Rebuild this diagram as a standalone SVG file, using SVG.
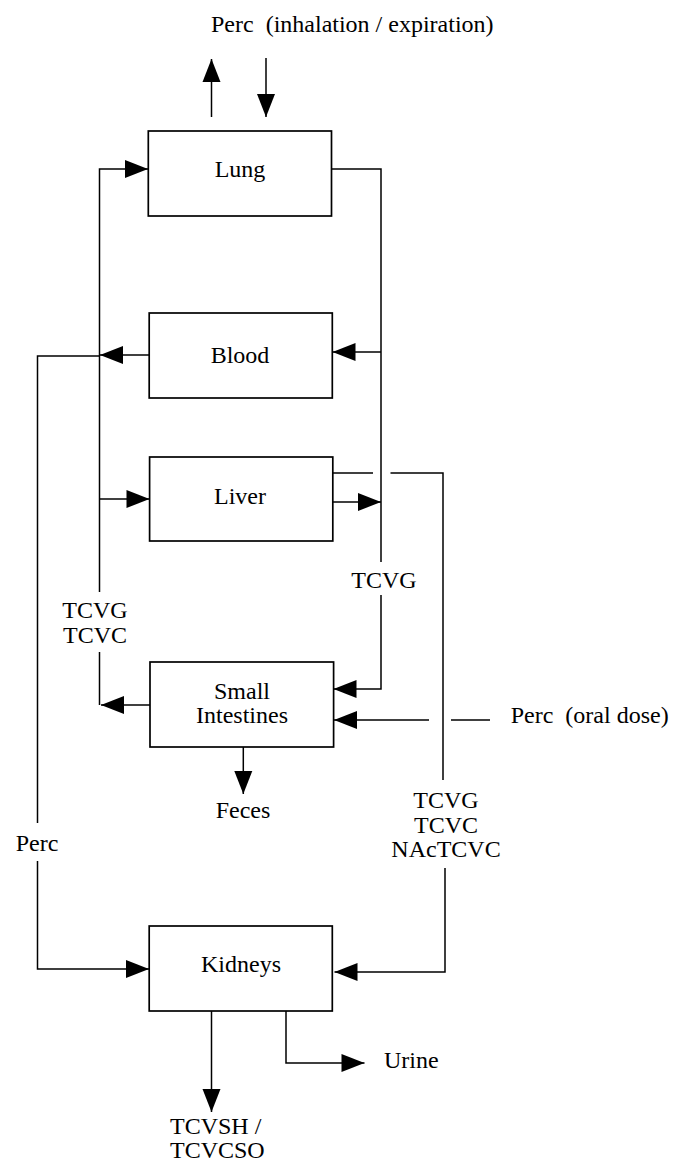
<svg xmlns="http://www.w3.org/2000/svg" width="675" height="1161" viewBox="0 0 675 1161" font-family="'Liberation Serif', 'DejaVu Serif', serif">
<style>
text{font-family:'Liberation Serif','DejaVu Serif',serif;font-size:24px;fill:#000;white-space:pre}
.c{text-anchor:middle}
.box{fill:#fff;stroke:#000;stroke-width:1.7}
.ln{fill:none;stroke:#000;stroke-width:1.5}
.ar{fill:none;stroke:#000;stroke-width:1.5;marker-end:url(#ah)}
</style>
<defs>
<marker id="ah" markerUnits="userSpaceOnUse" markerWidth="24" markerHeight="19" refX="23" refY="9" orient="auto" overflow="visible">
<path d="M0,0 L23,9 L0,18 z" fill="#000"/>
</marker>
</defs>
<text x="211" y="32">Perc  (inhalation / expiration)</text>
<g id="connectors">
<line class="ar" x1="211.5" y1="117" x2="211.5" y2="59"/>
<line class="ar" x1="266" y1="58" x2="266" y2="117"/>
<path class="ar" d="M99.5,592 V169 H148"/>
<path class="ln" d="M331.5,169 H381 V562"/>
<path class="ar" d="M381,595 V689 H333.5"/>
<line class="ar" x1="381" y1="352" x2="332.5" y2="352"/>
<line class="ar" x1="149" y1="355" x2="100" y2="355"/>
<path class="ln" d="M99.5,356 H37.5 V823"/>
<path class="ar" d="M37.5,861 V969 H149"/>
<line class="ar" x1="99.5" y1="499" x2="149.5" y2="499"/>
<line class="ln" x1="333" y1="473" x2="373" y2="473"/>
<path class="ln" d="M390.5,473 H443 V780"/>
<line class="ar" x1="333" y1="502" x2="381" y2="502"/>
<line class="ln" x1="99.5" y1="652" x2="99.5" y2="705"/>
<line class="ar" x1="150" y1="705" x2="101" y2="705"/>
<line class="ar" x1="429" y1="720" x2="334" y2="720"/>
<line class="ln" x1="451" y1="720" x2="490" y2="720"/>
<line class="ar" x1="243.3" y1="747" x2="243.3" y2="794"/>
<path class="ar" d="M445,868 V972 H334.5"/>
<line class="ar" x1="211.5" y1="1011" x2="211.5" y2="1112"/>
<path class="ar" d="M286,1011 V1063 H364.5"/>
</g>
<g id="lung"><rect class="box" x="148.3" y="131" width="183.2" height="85"/><text class="c" x="240" y="177">Lung</text></g>
<g id="blood"><rect class="box" x="149.2" y="313" width="183.1" height="85"/><text class="c" x="240" y="363">Blood</text></g>
<g id="liver"><rect class="box" x="149.6" y="457" width="183.2" height="84"/><text class="c" x="240" y="504">Liver</text></g>
<g id="small-intestines"><rect class="box" x="150" y="662" width="183.6" height="85"/><text class="c" x="242" y="699">Small</text><text class="c" x="242" y="723">Intestines</text></g>
<g id="kidneys"><rect class="box" x="149.2" y="926" width="183.1" height="85"/><text class="c" x="241" y="972">Kidneys</text></g>
<g id="labels">
<text class="c" x="95" y="618">TCVG</text>
<text class="c" x="95" y="643">TCVC</text>
<text class="c" x="384" y="588">TCVG</text>
<text x="510.7" y="723">Perc  (oral dose)</text>
<text class="c" x="243" y="818">Feces</text>
<text class="c" x="446" y="808">TCVG</text>
<text class="c" x="446" y="833">TCVC</text>
<text class="c" x="446" y="857">NAcTCVC</text>
<text class="c" x="37" y="851">Perc</text>
<text x="384" y="1068">Urine</text>
<text x="170" y="1134">TCVSH /</text>
<text x="170" y="1158">TCVCSO</text>
</g>
</svg>
